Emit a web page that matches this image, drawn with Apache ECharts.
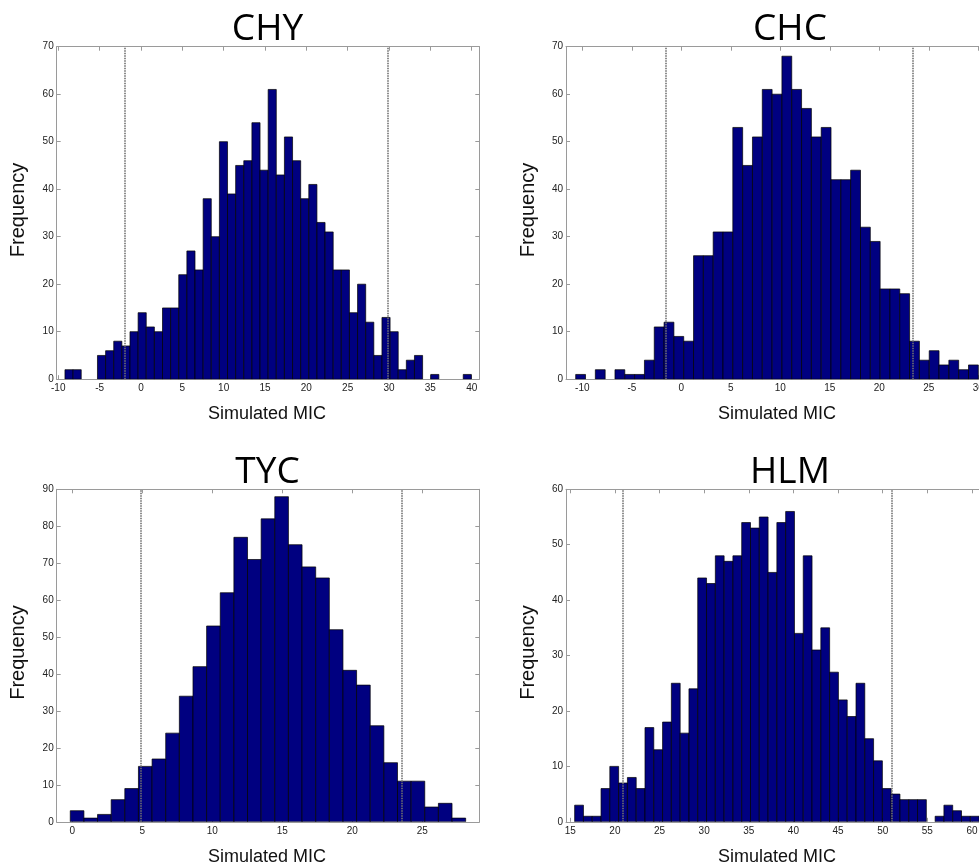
<!DOCTYPE html>
<html>
<head>
<meta charset="utf-8">
<script src="https://cdn.jsdelivr.net/npm/echarts@6/dist/echarts.min.js"></script>
<style>
  html, body { margin: 0; padding: 0; background: #fff; }
  #chart { width: 979px; height: 868px; }
</style>
</head>
<body>
<div id="chart"></div>
<script>
// histogram counts per bin (1000 simulations each)
const chyCounts = [2, 2, 0, 0, 5, 6, 8, 7, 10, 14, 11, 10, 15, 15, 22, 27, 23, 38, 30, 50, 39, 45, 46, 54,
  44, 61, 43, 51, 46, 38, 41, 33, 31, 23, 23, 14, 20, 12, 5, 13, 10, 2, 4, 5, 0, 1, 0, 0, 0, 1]
const chcCounts = [1, 0, 2, 0, 2, 1, 1, 4, 11, 12, 9, 8, 26, 26, 31, 31, 53, 45, 51, 61, 60, 68, 61, 57,
  51, 53, 42, 42, 44, 32, 29, 19, 19, 18, 8, 4, 6, 3, 4, 2, 3]
const tycCounts = [3, 1, 2, 6, 9, 15, 17, 24, 34, 42, 53, 62, 77, 71, 82, 88, 75, 69, 66, 52, 41, 37, 26,
  16, 11, 11, 4, 5, 1]
const hlmCounts = [3, 1, 1, 6, 10, 7, 8, 6, 17, 13, 18, 25, 16, 24, 44, 43, 48, 47, 48, 54, 53, 55, 45, 54,
  56, 34, 48, 31, 35, 27, 22, 19, 25, 15, 11, 6, 5, 4, 4, 4, 0, 1, 3, 2, 1, 1]

// first bin edge and bin width
const chyBins = [-9.19, 0.983]
const chcBins = [-10.67, 0.992]
const tycBins = [-0.14, 0.974]
const hlmBins = [15.49, 0.985]

// dotted cut-off lines
const chyCutoffs = [-2.02, 29.8]
const chcCutoffs = [-1.6, 23.36]
const tycCutoffs = [4.86, 23.53]
const hlmCutoffs = [20.93, 51.0]

// x tick labels
const chyTicks = [-10, -5, 0, 5, 10, 15, 20, 25, 30, 35, 40]
const chcTicks = [-10, -5, 0, 5, 10, 15, 20, 25, 30]
const tycTicks = [0, 5, 10, 15, 20, 25]
const hlmTicks = [15, 20, 25, 30, 35, 40, 45, 50, 55, 60]

// right-hand panels are cut off by the picture edge, so their right frame is not drawn
const panels = [
  { name: 'CHY', counts: chyCounts, bins: chyBins, cutoffs: chyCutoffs, ticks: chyTicks,
    xMin: -10.19, xMax: 40.92, yMax: 70, left: 56.7, top: 46.7, width: 422.6, titleX: 267.5, frameRight: true },
  { name: 'CHC', counts: chcCounts, bins: chcBins, cutoffs: chcCutoffs, ticks: chcTicks,
    xMin: -11.65, xMax: 30.07, yMax: 70, left: 566, top: 46.7, width: 413, titleX: 790, frameRight: false },
  { name: 'TYC', counts: tycCounts, bins: tycBins, cutoffs: tycCutoffs, ticks: tycTicks,
    xMin: -1.11, xMax: 29.08, yMax: 90, left: 56.7, top: 489.3, width: 422.6, titleX: 267.5, frameRight: true },
  { name: 'HLM', counts: hlmCounts, bins: hlmBins, cutoffs: hlmCutoffs, ticks: hlmTicks,
    xMin: 14.52, xMax: 60.79, yMax: 60, left: 566, top: 489.3, width: 413, titleX: 790, frameRight: false }
]

const PLOT_H = 332.5
const FRAME = '#9a9a9a'
const labelFont = { fontFamily: 'Liberation Sans', fontSize: 10, color: '#222' }

function renderBar(params, api) {
  const count = api.value(2)
  if (!count) return
  const p0 = api.coord([api.value(0), count])
  const p1 = api.coord([api.value(1), 0])
  return {
    type: 'rect',
    shape: { x: p0[0], y: p0[1], width: p1[0] - p0[0], height: p1[1] - p0[1] },
    style: { fill: '#000080', stroke: '#000', lineWidth: 0.7 }
  }
}

const grid = [], xAxis = [], yAxis = [], series = [], graphic = []

panels.forEach((p, i) => {
  grid.push({ left: p.left, top: p.top, width: p.width, height: PLOT_H, outerBoundsMode: 'none' })
  const tickStyle = { show: true, inside: true, length: 4, lineStyle: { color: FRAME } }
  const lineStyle = { show: true, onZero: false, lineStyle: { color: FRAME, width: 1 } }
  xAxis.push({
    type: 'value', gridIndex: i, position: 'bottom', min: p.xMin, max: p.xMax,
    axisLine: lineStyle, splitLine: { show: false },
    axisTick: Object.assign({ customValues: p.ticks }, tickStyle),
    axisLabel: Object.assign({ customValues: p.ticks, margin: 4 }, labelFont)
  })
  xAxis.push({
    type: 'value', gridIndex: i, position: 'top', min: p.xMin, max: p.xMax,
    axisLine: lineStyle, splitLine: { show: false },
    axisTick: Object.assign({ customValues: p.ticks }, tickStyle),
    axisLabel: { show: false }
  })
  yAxis.push({
    type: 'value', gridIndex: i, position: 'left', min: 0, max: p.yMax, interval: 10,
    axisLine: lineStyle, splitLine: { show: false }, axisTick: tickStyle,
    axisLabel: Object.assign({ margin: 3 }, labelFont)
  })
  yAxis.push({
    type: 'value', gridIndex: i, position: 'right', min: 0, max: p.yMax, interval: 10,
    axisLine: Object.assign({}, lineStyle, { show: p.frameRight }), splitLine: { show: false },
    axisTick: Object.assign({}, tickStyle, { show: p.frameRight }),
    axisLabel: { show: false }
  })

  const data = p.counts.map((c, k) => [p.bins[0] + k * p.bins[1], p.bins[0] + (k + 1) * p.bins[1], c])
  series.push({
    type: 'custom', xAxisIndex: 2 * i, yAxisIndex: 2 * i,
    renderItem: renderBar, data: data, encode: { x: [0, 1], y: 2 }, clip: true
  })
  series.push({
    type: 'line', xAxisIndex: 2 * i, yAxisIndex: 2 * i, data: [], z: 5,
    markLine: {
      silent: true, symbol: ['none', 'none'], label: { show: false },
      lineStyle: { color: '#707070', type: [1.5, 1], width: 1.6 },
      data: p.cutoffs.map(v => ({ xAxis: v }))
    }
  })

  const midY = p.top + PLOT_H / 2
  graphic.push({
    type: 'text', x: p.titleX, y: p.top - 17,
    style: { text: p.name, fontFamily: 'Open Sans', fontSize: 37, fill: '#000',
      align: 'center', verticalAlign: 'middle', textAlign: 'center', textVerticalAlign: 'middle' }
  })
  graphic.push({
    type: 'text', x: i % 2 ? 777 : 267, y: p.top + PLOT_H + 35,
    style: { text: 'Simulated MIC', fontFamily: 'Liberation Sans', fontSize: 18, fill: '#111',
      align: 'center', verticalAlign: 'middle', textAlign: 'center', textVerticalAlign: 'middle' }
  })
  graphic.push({
    type: 'text', x: p.left - 38, y: midY - 3, rotation: Math.PI / 2,
    style: { text: 'Frequency', fontFamily: 'Liberation Sans', fontSize: 20, fill: '#111',
      align: 'center', verticalAlign: 'middle', textAlign: 'center', textVerticalAlign: 'middle' }
  })
})

const chart = echarts.init(document.getElementById('chart'))
chart.setOption({
  animation: false,
  backgroundColor: '#fff',
  grid, xAxis, yAxis, series, graphic
})
</script>
</body>
</html>
